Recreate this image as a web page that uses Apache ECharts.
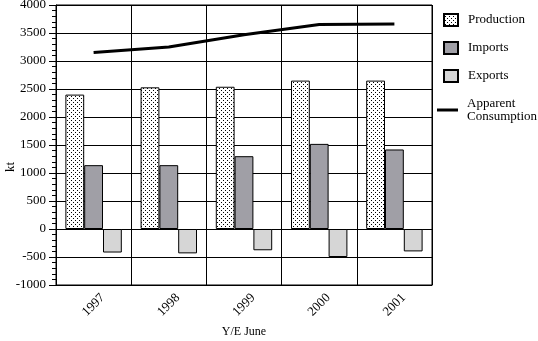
<!DOCTYPE html>
<html>
<head>
<meta charset="utf-8">
<script src="https://cdn.jsdelivr.net/npm/echarts@6/dist/echarts.min.js"></script>
<style>
  html, body { margin: 0; padding: 0; background: #fff; }
  #chart { width: 538px; height: 341px; }
</style>
</head>
<body>
<div id="chart"></div>
<script>
// Year-ending June figures, kilotonnes
const years = ['1997', '1998', '1999', '2000', '2001'];
const production = [2400, 2530, 2540, 2650, 2650];
const imports = [1140, 1140, 1300, 1520, 1420];
const exports = [-420, -435, -380, -500, -400];
const consumption = [3150, 3250, 3470, 3650, 3660];
const yTicks = { min: -1000, max: 4000, step: 500 };

const FONT = '"Liberation Serif", "DejaVu Serif", serif';

// Dotted diagonal fill for the production bars
function dotPattern() {
  const c = document.createElement('canvas');
  c.width = 4; c.height = 4;
  const g = c.getContext('2d');
  g.fillStyle = '#fff';
  g.fillRect(0, 0, 4, 4);
  g.fillStyle = '#000';
  g.fillRect(3, 0, 1, 1);
  g.fillRect(1, 2, 1, 1);
  return c;
}
const prodFill = { image: dotPattern(), repeat: 'repeat' };

const chart = echarts.init(document.getElementById('chart'), null, { renderer: 'canvas' });

const barCommon = {
  type: 'bar',
  barGap: '0%',
  barCategoryGap: '25%'
};

chart.setOption({
  animation: false,
  backgroundColor: '#fff',
  textStyle: { fontFamily: FONT, color: '#000' },
  grid: {
    left: 56, right: 106, top: 5, bottom: 56,
    outerBoundsMode: 'none',
    containLabel: false,
    show: true, borderColor: '#000', borderWidth: 1
  },
  legend: [
    {
      orient: 'vertical',
      left: 443, top: 13, padding: 0,
      itemWidth: 14, itemHeight: 12, itemGap: 14,
      icon: 'rect',
      textStyle: { fontFamily: FONT, fontSize: 13, color: '#000', padding: [0, 0, 0, 5] },
      data: ['Production', 'Imports', 'Exports']
    },
    {
      orient: 'vertical',
      left: 437, top: 97, padding: 0,
      itemWidth: 21, itemHeight: 3,
      icon: 'rect',
      textStyle: { fontFamily: FONT, fontSize: 13, color: '#000', lineHeight: 13, padding: [0, 0, 0, 4] },
      formatter: n => n.replace(' ', '\n'),
      data: ['Apparent Consumption']
    }
  ],
  xAxis: {
    type: 'category',
    data: years,
    name: 'Y/E June',
    nameLocation: 'middle',
    nameGap: 41,
    nameMoveOverlap: false,
    nameTextStyle: { fontFamily: FONT, fontSize: 12, color: '#000' },
    axisLine: { onZero: false, lineStyle: { color: '#000' } },
    axisTick: { show: false },
    axisLabel: {
      rotate: 45, margin: 20, align: 'center', verticalAlign: 'middle',
      fontFamily: FONT, fontSize: 13, color: '#000'
    },
    splitLine: { show: true, lineStyle: { color: '#000', width: 1 } }
  },
  yAxis: {
    type: 'value',
    min: yTicks.min, max: yTicks.max, interval: yTicks.step,
    name: 'kt',
    nameLocation: 'middle',
    nameGap: 39,
    nameRotate: 90,
    nameMoveOverlap: false,
    nameTextStyle: { fontFamily: FONT, fontSize: 13, color: '#000', padding: [0, 44, 0, 0] },
    axisLine: { show: true, lineStyle: { color: '#000' } },
    axisTick: { show: true, length: 7, lineStyle: { color: '#000' } },
    minorTick: { show: true, splitNumber: 5, length: 4, lineStyle: { color: '#000' } },
    axisLabel: { margin: 10, fontFamily: FONT, fontSize: 13, color: '#000', formatter: v => String(v) },
    splitLine: { show: true, lineStyle: { color: '#000', width: 1 } }
  },
  series: [
    Object.assign({}, barCommon, {
      name: 'Production', data: production,
      itemStyle: { color: prodFill, borderColor: '#000', borderWidth: 1 }
    }),
    Object.assign({}, barCommon, {
      name: 'Imports', data: imports,
      itemStyle: { color: '#a09fa6', borderColor: '#000', borderWidth: 1 }
    }),
    Object.assign({}, barCommon, {
      name: 'Exports', data: exports,
      itemStyle: { color: '#d6d6d6', borderColor: '#000', borderWidth: 1 }
    }),
    {
      name: 'Apparent Consumption', type: 'line', data: consumption,
      symbol: 'none', showSymbol: false,
      lineStyle: { color: '#000', width: 3 },
      itemStyle: { color: '#000' },
      z: 5
    }
  ]
});
</script>
</body>
</html>
